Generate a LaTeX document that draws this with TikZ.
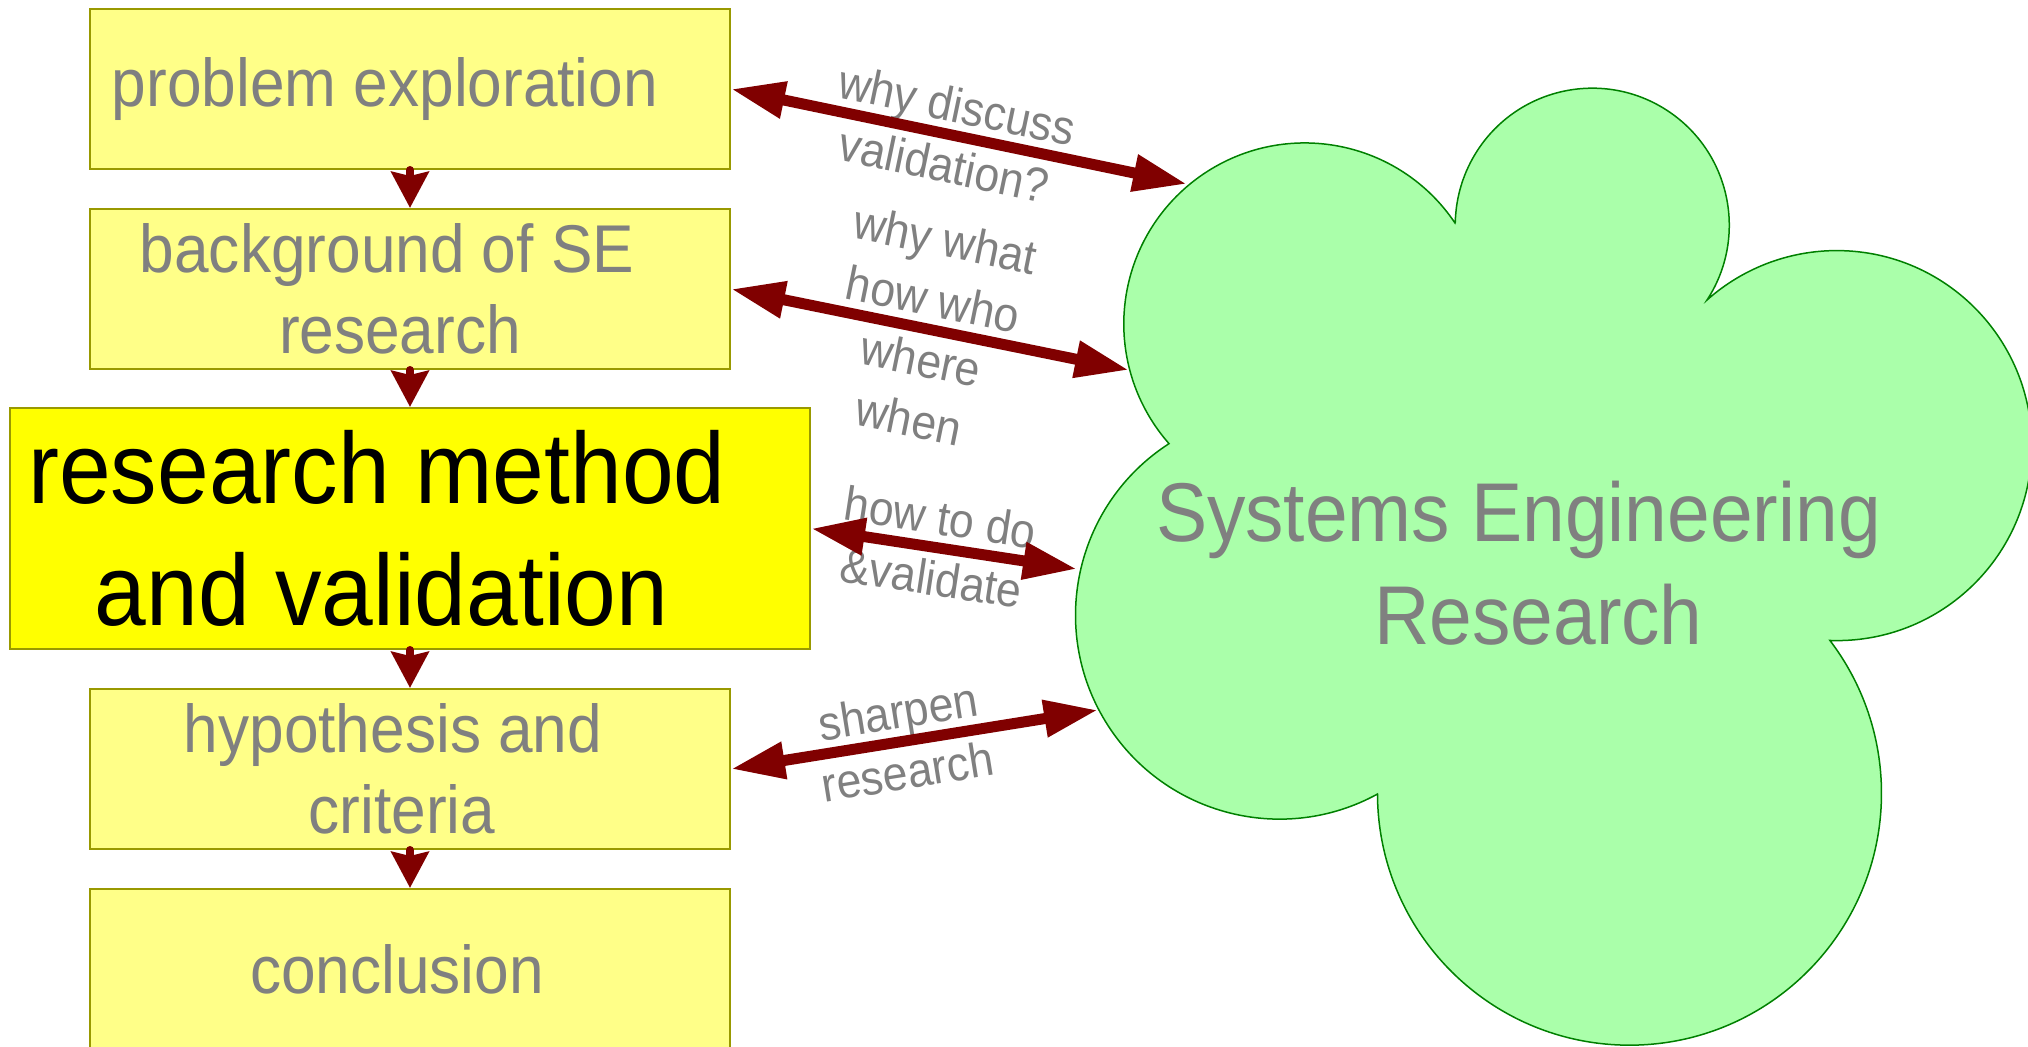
\documentclass[tikz,border=0pt]{standalone}
\usepackage{fontspec}
\setmainfont{Liberation Sans}[FakeStretch=0.92]
\usetikzlibrary{arrows.meta}
\definecolor{boxfill}{HTML}{FFFF88}
\definecolor{boxline}{HTML}{999900}
\definecolor{hifill}{HTML}{FFFF00}
\definecolor{cloudfill}{HTML}{AAFFAA}
\definecolor{cloudline}{HTML}{008000}
\definecolor{arrowred}{HTML}{800000}
\definecolor{txtgray}{HTML}{808080}
\begin{document}
\begin{tikzpicture}[x=0.5pt,y=-0.5pt,
  box/.style={draw=boxline, line width=1pt, fill=boxfill, minimum width=320pt, minimum height=80pt, inner sep=0pt, align=center, text=txtgray, font=\fontsize{33.8pt}{40.5pt}\selectfont},
  hibox/.style={box, fill=hifill, minimum width=400pt, minimum height=120.5pt, text=black, font=\fontsize{50.5pt}{61pt}\selectfont},
  vert/.style={draw=arrowred, line width=4pt, line cap=round, -{Stealth[length=18pt,width=18.5pt,inset=2pt]}},
  dbl/.style={draw=arrowred, line width=5.5pt, {Triangle[length=27pt,width=17.5pt]}-{Triangle[length=27pt,width=17.5pt]}},
  lbl/.style={sloped, text=txtgray, align=center, inner sep=0pt, font=\fontsize{24.2pt}{30.5pt}\selectfont},
  cloud/.style={draw=cloudline, line width=0.75pt, fill=cloudfill},
  cloudtext/.style={text=txtgray, align=center, inner sep=0pt, font=\fontsize{41.7pt}{51.5pt}\selectfont}
]
\useasboundingbox (0,0) rectangle (2028,1046);
\clip (0,0) rectangle (2028,1046);

% cloud
\path[cloud] (1455,223) arc[start angle=33.9, end angle=221.4, radius=90.5pt]
  arc[start angle=122.8, end angle=298.7, radius=102pt]
  arc[start angle=180.2, end angle=397.3, radius=126pt]
  arc[start angle=268, end angle=491.7, radius=97.5pt]
  arc[start angle=-33.1, end angle=178.7, radius=68.5pt] -- cycle;
\node[cloudtext] (se) at (1538.5,563.5) {Systems Engineering\hspace*{20pt}\\Research};

\coordinate (cA) at (1187,184);
\coordinate (cB) at (1129,370);
\coordinate (cC) at (1077,569);
\coordinate (cD) at (1098,710);

% boxes
\node[box] (b1) at (410,89) {problem exploration\hspace*{25pt}};
\node[box] (b2) at (410,289) {background of SE\hspace*{23pt}\\research\hspace*{10pt}};
\node[hibox] (b3) at (410,528.5) {research method\hspace*{33pt}\\and validation\hspace*{28.5pt}};
\node[box] (b4) at (410,769) {hypothesis and\hspace*{17pt}\\criteria\hspace*{8pt}};
\node[box] (b5) at (410,969) {conclusion\hspace*{13pt}};

% vertical flow
\draw[vert] (b1.south) -- (b2.north);
\draw[vert] (b2.south) -- (b3.north);
\draw[vert] (b3.south) -- (b4.north);
\draw[vert] (b4.south) -- (b5.north);

% labels
\path (b1.east) -- (cA) node[lbl, pos=0.482] (lA) {why discuss\\validation?};
\path (b2.east) -- (cB) node[lbl, pos=0.493] (lB) {why what\\how who\\where\\when};
\path (b3.east) -- (cC) node[lbl, pos=0.47] (lC) {how to do\\\&validate};
\path (b4.east) -- (cD) node[lbl, pos=0.468] (lD) {sharpen\\research};

% double arrows
\draw[dbl] (b1.east) -- (cA);
\draw[dbl] (b2.east) -- (cB);
\draw[dbl] (b3.east) -- (cC);
\draw[dbl] (b4.east) -- (cD);
\end{tikzpicture}
\end{document}
